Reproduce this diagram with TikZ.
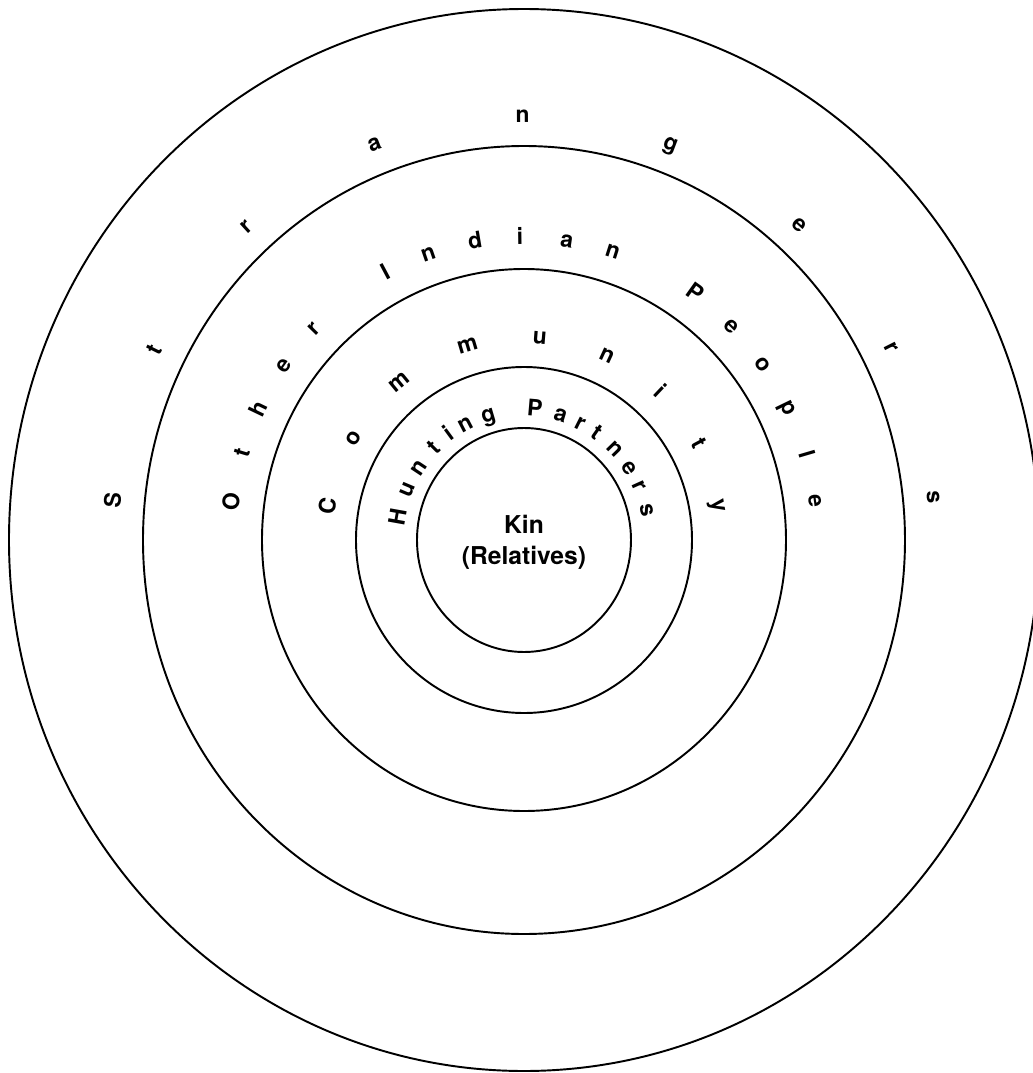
\documentclass[tikz,border=0pt]{standalone}
\usepackage{fontspec}
\setmainfont{TeX Gyre Heros}
\usepackage{tikz}

\begin{document}
\begin{tikzpicture}[x=0.02cm, y=0.02cm, line width=1.1pt,
    ring/.style={draw=black},
    glyph/.style={font=\bfseries\fontsize{13}{16}\selectfont,anchor=base,inner sep=0pt},
    core/.style={font=\bfseries\fontsize{14}{17.6}\selectfont,align=center,inner sep=0pt}]
  \useasboundingbox (-524,-533) rectangle (509,540);
  \coordinate (o) at (0,0);
  % the five rings
  \foreach \rx/\ry in {107/112,168/173,262/271,381/394,515/531}
    \draw[ring] (o) ellipse [x radius=\rx, y radius=\ry];
  % Strangers
  \foreach \ch/\ang [count=\i] in {S/174.6,t/153.5,r/132.4,a/111.3,n/90.2,g/69.1,e/48.0,r/26.9,s/5.8}
    \node[glyph,rotate={\ang-90}] (st\i) at ({405*cos(\ang)},{418*sin(\ang)}) {\ch};
  % Other Indian People
  \foreach \ch/\ang [count=\i] in {O/172.8,t/163.2,h/154.4,e/144.8,r/135.6,I/118.0,n/109.0,d/99.6,i/90.8,a/81.6,n/72.4,P/54.6,e/45.0,o/35.4,p/25.9,l/16.4,e/7.4}
    \node[glyph,rotate={\ang-90}] (ot\i) at ({287*cos(\ang)},{296*sin(\ang)}) {\ch};
  % Community
  \foreach \ch/\ang [count=\i] in {C/170.6,o/149.9,m/129.3,m/106.6,u/85.4,n/65.2,i/46.6,t/28.2,y/9.7}
    \node[glyph,rotate={\ang-90}] (cm\i) at ({191*cos(\ang)},{197*sin(\ang)}) {\ch};
  % Hunting Partners
  \foreach \ch/\ang [count=\i] in {H/169.9,u/157.2,n/146.5,t/135.1,i/126.2,n/117.6,g/106.4,P/85.1,a/73.2,r/63.3,t/55.1,n/44.3,e/33.6,r/24.3,s/13.3}
    \node[glyph,rotate={\ang-90}] (hp\i) at ({120*cos(\ang)},{124*sin(\ang)}) {\ch};
  \node[core] (kin) at (0,-2) {Kin\\(Relatives)};
\end{tikzpicture}
\end{document}
